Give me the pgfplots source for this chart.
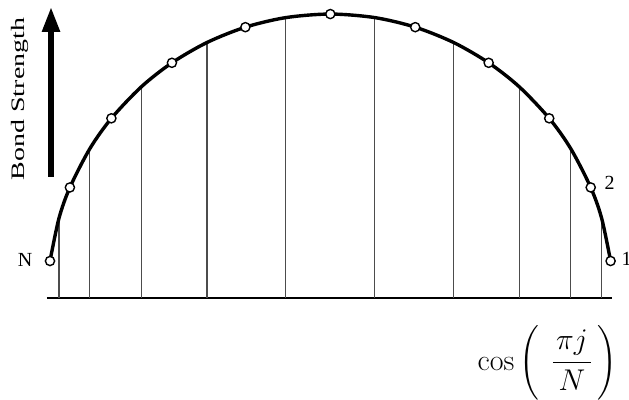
\RequirePackage{fix-cm}
\documentclass[border=0pt]{standalone}
\usepackage{amsmath}
\usepackage{graphicx}
\usepackage[no-math]{fontspec}
\setmainfont{Liberation Serif}
\usepackage{pgfplots}
\pgfplotsset{compat=1.18}
\usepackage{pgfplotstable}
\usetikzlibrary{arrows.meta}

% site positions x_j = cos(pi j / N) and their bond strengths
\pgfplotstableread{
x       y
-1.000  0.1320
-0.929  0.3944
-0.781  0.6410
-0.565  0.8391
-0.303  0.9662
 0.000  1.0130
 0.303  0.9662
 0.565  0.8391
 0.781  0.6410
 0.929  0.3944
 1.000  0.1320
}\sites

% dividing lines between neighbouring sites
\pgfplotstableread{
x       y
-0.968  0.2845
-0.858  0.5325
-0.674  0.7536
-0.440  0.9115
-0.159  1.0003
 0.159  1.0003
 0.440  0.9115
 0.674  0.7536
 0.858  0.5325
 0.968  0.2845
}\bonds

% envelope through sites and line tops
\pgfplotstableread{
x       y
-1.000  0.1320
-0.968  0.2845
-0.929  0.3944
-0.858  0.5325
-0.781  0.6410
-0.674  0.7536
-0.565  0.8391
-0.440  0.9115
-0.303  0.9662
-0.159  1.0003
 0.000  1.0130
 0.159  1.0003
 0.303  0.9662
 0.440  0.9115
 0.565  0.8391
 0.674  0.7536
 0.781  0.6410
 0.858  0.5325
 0.929  0.3944
 0.968  0.2845
 1.000  0.1320
}\envelope

\begin{document}
\begin{tikzpicture}
\begin{axis}[
  scale only axis,
  width=629pt, height=399pt,
  xmin=-1.17838, xmax=1.06564,
  ymin=-0.36033, ymax=1.06315,
  axis lines=none,
  clip=false,
]
\coordinate (bl) at (rel axis cs:0,0);
\coordinate (tr) at (rel axis cs:1,1);

% base line
\addplot[black, line width=2pt] coordinates {(-1.011,0) (1.005,0)};

% vertical dividers
\addplot[ycomb, black!70, line width=1.1pt, mark=none] table[x=x,y=y] {\bonds};

% envelope curve
\addplot[black, line width=3.4pt, smooth, mark=none] table[x=x,y=y] {\envelope};

% sites
\addplot[only marks, mark=*, mark size=4.6pt,
  mark options={fill=white, draw=black, line width=1.4pt}] table[x=x,y=y] {\sites};

% labels
\node[font=\fontsize{20}{23}\selectfont, inner sep=0pt] at (axis cs:-1.0892,0.1356) {N};
\node[font=\fontsize{20}{23}\selectfont, inner sep=0pt] at (axis cs:0.9961,0.4103) {2};
\node[font=\fontsize{20}{23}\selectfont, inner sep=0pt] at (axis cs:1.0567,0.1391) {1};

\node[rotate=90, anchor=base, inner sep=0pt, font=\fontsize{19}{22}\selectfont]
  at (axis cs:-1.0892,0.7100) {\scalebox{1.47}[1]{Bond Strength}};

\draw[line width=5.6pt, -{Triangle[length=25pt,width=17pt]}]
  (axis cs:-0.9964,0.4317) -- (axis cs:-0.9964,1.0382);

\node[anchor=base west, inner sep=0pt, font=\fontsize{30}{34}\selectfont]
  at (axis cs:0.5252,-0.2569)
  {$\displaystyle\cos\left(\mkern7.5mu\frac{\mkern2mu\pi j\mkern2mu}{N}\mkern3mu\right)$};
\end{axis}
\pgfresetboundingbox
\path[use as bounding box] (bl) rectangle (tr);
\end{tikzpicture}
\end{document}
